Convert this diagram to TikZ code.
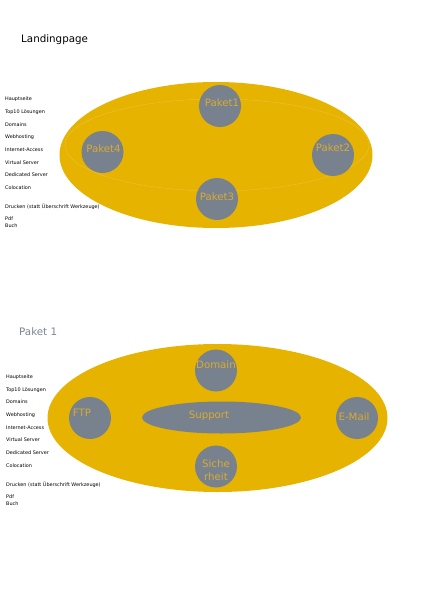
\documentclass[tikz,border=0pt]{standalone}
\usepackage{fontspec}
\setmainfont{DejaVu Sans}
\usetikzlibrary{shapes.geometric}
\definecolor{gold}{RGB}{230,179,0}
\definecolor{goldline}{RGB}{236,194,60}
\definecolor{slate}{RGB}{120,129,142}
\definecolor{goldtext}{RGB}{216,172,52}
\definecolor{titlegray}{RGB}{122,132,148}
\tikzset{
  bigell/.style={ellipse, fill=gold, draw=none, inner sep=0pt},
  bubble/.style={circle, fill=slate, draw=none, minimum size=42pt, inner sep=0pt},
  btext/.style={text=goldtext, font=\fontsize{10.2}{13}\selectfont, inner sep=0pt, align=center},
  listitem/.style={anchor=west, font=\fontsize{4.9}{5.5}\selectfont, inner sep=0pt},
  heading/.style={anchor=west, font=\fontsize{10.3}{12}\selectfont, inner sep=0pt}
}
\begin{document}
\begin{tikzpicture}[x=1pt,y=-1pt]
\useasboundingbox (0,0) rectangle (424,600);
% ---------- Landingpage ----------
\node[heading] (t1) at (21,40) {Landingpage};
\node[bigell, minimum width=313pt, minimum height=146pt] (e1) at (216,155) {};
\draw[goldline, line width=0.4pt] (217,145) ellipse [x radius=152, y radius=46];
\node[bubble] (p1) at (220,106) {};
\node[btext] (p1t) at (222,103) {Paket1};
\node[bubble] (p4) at (102.5,152) {};
\node[btext] (p4t) at (103.5,149) {Paket4};
\node[bubble] (p2) at (333,155) {};
\node[btext] (p2t) at (333,148) {Paket2};
\node[bubble] (p3) at (217,199) {};
\node[btext] (p3t) at (217,197) {Paket3};
\foreach \t/\y [count=\i] in {Hauptseite/99.3,Top10 Lösungen/112,Domains/124.7,Webhosting/137,Internet-Access/150,Virtual Server/162.7,Dedicated Server/175,Colocation/188,Drucken (statt Überschrift Werkzeuge)/207,Pdf/219,Buch/226}
  \node[listitem] (a\i) at (5,\y) {\t};
% ---------- Paket 1 ----------
\node[heading, text=titlegray] (t2) at (19,332) {Paket 1};
\node[bigell, minimum width=340pt, minimum height=148pt] (e2) at (217.5,418) {};
\node[bubble] (dom) at (216,370.5) {};
\node[btext] (domt) at (216,365) {Domain};
\node[bubble] (ftp) at (90,418) {};
\node[btext] (ftpt) at (82,413) {FTP};
\node[bubble] (mail) at (357,418) {};
\node[btext] (mailt) at (354,417) {E-Mail};
\node[bubble] (sich) at (216,466.5) {};
\node[btext] (sicht) at (216,470.5) {Siche\\rheit};
\node[ellipse, fill=slate, draw=none, minimum width=159pt, minimum height=32pt, inner sep=0pt] (sup) at (221.5,417.5) {};
\node[btext] (supt) at (209,416) {Support};
\foreach \t/\y [count=\i] in {Hauptseite/377,Top10 Lösungen/390,Domains/402,Webhosting/415,Internet-Access/428,Virtual Server/440,Dedicated Server/453,Colocation/466,Drucken (statt Überschrift Werkzeuge)/485,Pdf/497,Buch/504}
  \node[listitem] (b\i) at (6,\y) {\t};
\end{tikzpicture}
\end{document}
